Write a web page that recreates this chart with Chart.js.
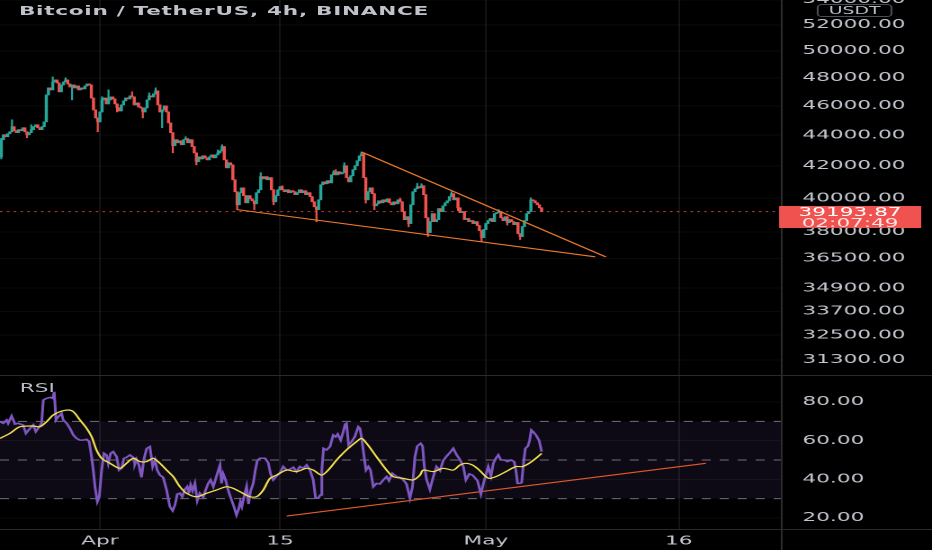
<!DOCTYPE html>
<html>
<head>
<meta charset="utf-8">
<script src="https://cdn.jsdelivr.net/npm/chart.js@4.4.0/dist/chart.umd.min.js"></script>
<style>
  html, body { margin: 0; padding: 0; background: #000; overflow: hidden; }
  #stage {
    position: absolute; left: 0; top: 0; width: 518px; height: 550px;
    transform: scaleX(1.7992); transform-origin: 0 0;
    font-family: "DejaVu Sans", sans-serif; background: #000;
  }
  canvas { position: absolute; left: 0; }
  #priceChart { top: 0; }
  #rsiChart { top: 375px; }
  .hline { position: absolute; left: 0; width: 518px; height: 1px; background: #2b2b2b; }
  .vline { position: absolute; top: 0; left: 434px; width: 1px; height: 550px; background: #2b2b2b; }
  .title { position: absolute; left: 10.5px; top: 4px; font-size: 12px; font-weight: bold; letter-spacing: 0.4px;
    line-height: 15px; color: #bfc2ca; white-space: nowrap; }
  .rsiLabel { position: absolute; left: 11px; top: 381px; font-size: 12px; line-height: 14px; color: #b8bbc3; }
  .unit { position: absolute; left: 454px; top: 4px; width: 42px; height: 13px; box-sizing: border-box;
    border: 1px solid #4a4d55; border-radius: 3px; font-size: 10.5px; line-height: 11px; color: #b8bbc3; text-align: center; }
  .lastPrice { position: absolute; left: 433px; top: 206px; width: 79px; height: 22px; background: #f0534f;
    color: #fff; font-size: 12px; line-height: 10.5px; text-align: center; padding-top: 1px; box-sizing: border-box; }
  .lastPrice span { color: #fde3e2; }
</style>
</head>
<body>
<div id="stage">
  <canvas id="priceChart" width="518" height="375"></canvas>
  <canvas id="rsiChart" width="518" height="175"></canvas>
  <div class="hline" style="top:375px"></div>
  <div class="hline" style="top:529px"></div>
  <div class="vline"></div>
  <div class="title">Bitcoin / TetherUS, 4h, BINANCE</div>
  <div class="rsiLabel">RSI</div>
  <div class="unit">USDT</div>
  <div class="lastPrice">39193.87<br><span>02:07:49</span></div>
</div>
<script>
// 4h candles, index 0 = Mar 24 08:00
const firstOpen = 42580;
const closes = [
  43700, 44030, 43900, 44100, 44230, 44570, 44300, 44170, 44370, 44300,
  44500, 44230, 44030, 44170, 44370, 44570, 44700, 44500, 44370, 44570,
  44900, 46770, 47270, 47130, 47700, 47840, 47630, 46990, 47480, 47700,
  47840, 47550, 47340, 47480, 47270, 47410, 47130, 47270, 47200, 47410,
  47550, 47480, 46550, 45720, 45170, 44900, 45580, 46420, 46550, 46140,
  46420, 46630, 46490, 46140, 45860, 45650, 46070, 46350, 46550, 46490,
  46700, 46630, 46070, 46210, 45930, 45860, 45580, 45860, 46420, 46700,
  46630, 46840, 47060, 46070, 45580, 45720, 46000, 45580, 44830, 44170,
  43310, 43700, 43500, 43630, 43370, 43700, 43770, 43500, 43700, 43250,
  42840, 42270, 42580, 42450, 42650, 42520, 42390, 42580, 42710, 42520,
  42710, 42840, 42970, 43250, 42390, 41880, 42200, 42070, 41130, 40390,
  39600, 40330, 40630, 40150, 39720, 40150, 39960, 39840, 39660, 40330,
  40510, 41320, 41190, 41320, 41130, 41260, 40510, 39780, 40150, 40510,
  40700, 40510, 40390, 40510, 40330, 40450, 40390, 40210, 40330, 40510,
  40330, 40450, 40210, 40330, 40090, 39780, 39480, 39310, 39900, 40820,
  41000, 40880, 41070, 40940, 41440, 41570, 41440, 41630, 41500, 41570,
  42010, 41260, 41000, 41380, 41760, 42010, 42330, 42650, 42770, 41260,
  39900, 40390, 40630, 40270, 39540, 39660, 39840, 39720, 39900, 39780,
  39960, 39720, 39600, 39780, 39660, 39900, 39780, 39190, 38720, 38890,
  38490, 39600, 40390, 40570, 40700, 40630, 40760, 40210, 38830, 37970,
  38600, 39070, 38600, 38720, 39370, 39190, 39540, 39720, 39840, 40090,
  40270, 39900, 40020, 39420, 39130, 39190, 38720, 38780, 38600, 38660,
  38490, 38600, 38370, 38080, 37680, 38140, 38490, 38660, 38780, 38600,
  39070, 39130, 39190, 38830, 38660, 38890, 38550, 38720, 38600, 38430,
  38550, 37910, 37740, 38310, 38660, 39070, 39190, 39900, 39840, 39720,
  39600, 39420, 39193.87
];
// notable wick extremes [candle, price]
const wickHighs = [
  [0, 43800], [5, 45040], [14, 44700], [24, 48060], [30, 48000], [47, 46640], [50, 47130],
  [61, 46990], [69, 46910], [72, 47270], [86, 43900], [101, 43030], [103, 43370], [121, 41570],
  [131, 40760], [155, 41700], [156, 41760], [160, 42200], [168, 42900], [186, 40000],
  [194, 40900], [196, 40880], [210, 40390], [232, 39310], [247, 40020]
];
const wickLows = [
  [0, 42450], [12, 43830], [33, 46420], [45, 44230], [54, 45580], [66, 45170], [75, 44500],
  [80, 42840], [91, 42070], [110, 39310], [118, 39310], [127, 39600], [147, 38600], [170, 39700],
  [174, 39310], [190, 38300], [199, 37740], [213, 39250], [224, 37460], [236, 38400], [242, 37570]
];
const lastPrice = 39193.87;
const priceTicks = [54000, 52000, 50000, 48000, 46000, 44000, 42000, 40000, 38000, 36500, 34900, 33700, 32500, 31300];
const dateTicks = [46, 130, 226, 316];
const dateLabels = ['Apr', '15', 'May', '16'];
// wedge trend lines [candle, price]
const wedgeUpper = [[168, 42900], [282, 36590]];
const wedgeLower = [[110, 39310], [277, 36600]];

// RSI (purple) and its moving average (yellow), [candle] -> value
const rsiAt = [
  -0.6, 0.9, 2.5, 3.2, 4.8, 6.4, 7.9, 10.2, 11.5, 13.4, 14.9, 16.1, 17.7, 18.8, 19.6, 21.1, 22.7, 23.9, 24.7, 25.5,
  26.6, 28.1, 28.9, 30.5, 32.0, 33.6, 35.1, 36.7, 38.2, 39.8, 41.0, 42.1, 42.9, 43.7, 44.8, 45.7, 46.8, 47.9, 49.1, 49.9,
  51.0, 52.2, 53.8, 54.9, 56.1, 57.2, 58.4, 60.0, 61.5, 62.3, 63.1, 64.2, 65.4, 66.5, 67.8, 69.3, 70.6, 71.7, 72.7, 74.0,
  75.5, 77.1, 78.6, 79.9, 81.0, 82.1, 83.3, 84.4, 85.6, 86.7, 87.5, 88.3, 89.2, 90.3, 91.4, 92.6, 94.2, 95.3, 96.5, 97.6,
  98.9, 100.4, 102.0, 102.7, 103.5, 104.6, 105.9, 107.1, 108.5, 109.7, 110.7, 111.5, 112.2, 113.2, 114.4, 115.3, 116.3, 117.5, 118.5, 119.4,
  120.6, 123.0, 124.5, 125.6, 126.8, 128.4, 130.0, 131.5, 133.1, 134.6, 136.2, 137.7, 139.3, 140.8, 142.4, 144.0, 145.5, 146.6, 147.8, 148.8,
  149.5, 150.3, 151.7, 153.3, 154.8, 155.9, 156.9, 158.3, 159.5, 160.4, 161.0, 162.0, 163.4, 164.9, 166.5, 167.3, 168.2, 169.1, 170.1, 171.2,
  172.2, 173.5, 175.0, 176.6, 178.2, 179.7, 180.8, 182.4, 184.4, 185.9, 187.5, 189.0, 190.6, 191.8, 192.9, 194.0, 195.6, 196.5, 197.3, 198.4,
  199.9, 201.5, 203.0, 204.6, 206.1, 207.7, 209.2, 210.8, 212.4, 213.9, 215.5, 216.7, 218.3, 219.8, 222.1, 223.7, 225.2, 227.1, 228.4, 229.5,
  230.7, 231.8, 233.0, 234.6, 236.1, 237.7, 239.2, 240.0, 240.8, 241.9, 242.7, 243.4, 244.4, 245.6, 246.4, 247.2, 248.0, 249.4, 250.9, 252.0
];
const rsiValues = [
  69.8, 69.0, 70.7, 69.0, 72.8, 68.6, 69.0, 68.1, 63.8, 66.4, 68.1, 64.7, 67.2, 69.0, 81.0, 81.9, 82.4, 81.9, 85.3, 70.7,
  72.4, 74.1, 70.7, 69.0, 66.4, 62.9, 61.2, 60.3, 60.3, 60.7, 59.5, 51.7, 44.8, 36.2, 28.5, 31.0, 44.8, 53.5, 52.6, 48.3,
  53.5, 54.3, 51.7, 44.8, 45.7, 50.9, 51.4, 52.6, 51.4, 47.9, 50.3, 47.4, 41.0, 50.3, 56.0, 56.9, 46.6, 50.0, 44.8, 42.2,
  41.0, 34.5, 25.9, 23.8, 26.7, 32.4, 32.8, 31.0, 34.8, 36.2, 32.8, 37.1, 34.1, 37.9, 29.0, 32.8, 30.7, 34.5, 37.9, 39.7,
  36.2, 41.7, 47.4, 37.9, 42.8, 39.7, 34.1, 30.2, 25.9, 21.5, 24.5, 28.4, 25.9, 31.0, 36.2, 27.2, 34.1, 37.9, 44.8, 49.7,
  50.9, 50.9, 48.6, 42.8, 39.7, 41.7, 43.4, 46.6, 44.8, 45.2, 46.2, 44.0, 46.6, 45.7, 47.4, 44.8, 39.7, 30.2, 30.2, 31.9,
  44.8, 56.0, 55.2, 56.9, 62.9, 62.0, 63.4, 60.3, 64.7, 68.6, 69.0, 57.8, 59.5, 62.1, 67.2, 66.4, 60.3, 52.6, 44.8, 46.6,
  44.8, 36.2, 37.9, 37.6, 39.7, 41.4, 39.3, 43.1, 41.4, 41.0, 39.7, 37.6, 30.2, 36.2, 51.4, 57.2, 58.6, 57.2, 46.6, 39.7,
  34.8, 41.4, 46.6, 44.5, 49.7, 52.0, 53.8, 56.0, 52.6, 50.3, 46.6, 39.7, 42.8, 42.2, 39.3, 32.4, 39.3, 46.6, 41.7, 48.3,
  50.9, 52.6, 50.0, 50.0, 49.2, 50.0, 49.2, 44.8, 37.9, 37.9, 38.3, 46.6, 56.0, 57.2, 60.0, 65.5, 64.7, 62.9, 60.0, 54.3
];
const maAt = [
  -0.6, 4.0, 8.7, 14.9, 18.0, 21.1, 24.2, 27.3, 31.2, 33.6, 36.7, 39.8, 42.1, 44.4, 46.8, 50.7, 55.3, 58.4, 61.5, 64.7,
  67.8, 70.9, 74.0, 77.1, 80.2, 83.3, 86.4, 91.1, 95.8, 100.4, 105.1, 108.2, 111.3, 116.0, 119.1, 122.2, 125.3, 128.4, 133.1, 137.7,
  142.4, 145.5, 149.4, 152.5, 156.4, 161.0, 165.7, 168.0, 170.4, 175.0, 179.7, 182.8, 187.5, 192.1, 195.3, 196.8, 201.5, 206.1, 210.8, 213.9,
  216.7, 219.8, 222.9, 226.0, 227.6, 230.7, 235.4, 240.0, 243.1, 246.2, 249.4, 252.0
];
const maValues = [
  61.2, 63.8, 67.2, 67.6, 67.2, 69.8, 73.3, 75.0, 75.9, 75.0, 70.7, 66.4, 62.1, 55.2, 50.9, 48.3, 45.7, 48.3, 50.9, 49.2,
  49.2, 50.9, 48.3, 44.8, 41.4, 36.2, 32.8, 31.0, 32.8, 34.5, 36.2, 35.3, 33.6, 31.0, 31.0, 34.5, 40.5, 42.2, 44.8, 44.0,
  45.7, 44.8, 42.2, 44.8, 50.0, 55.2, 59.5, 61.2, 58.6, 51.7, 44.8, 41.4, 40.5, 39.7, 42.2, 44.8, 44.0, 45.7, 44.8, 47.4,
  48.3, 47.4, 44.8, 41.4, 40.5, 41.4, 44.0, 46.6, 46.6, 48.3, 50.9, 53.4
];
const rsiTrend = [[133.1, 21.0], [328.6, 48.3]];
const rsiLevels = [70, 50, 30];
const rsiTicks = [20, 40, 60, 80];

const GREEN = '#26a69a';
const RED = '#ef5350';
const GRID = 'rgba(255,255,255,0.075)';
const HGRID = 'rgba(255,255,255,0.045)';
const TEXT = '#c3c6ce';
const X_MIN = -0.6, X_MAX = 363.6;

Chart.defaults.font.family = '"DejaVu Sans", sans-serif';
Chart.defaults.font.size = 12;
Chart.defaults.color = TEXT;

const opens = closes.map((c, i) => i === 0 ? firstOpen : closes[i - 1]);
const highs = closes.map((c, i) => Math.max(c, opens[i]));
const lows = closes.map((c, i) => Math.min(c, opens[i]));
wickHighs.forEach(([i, p]) => { highs[i] = Math.max(highs[i], p); });
wickLows.forEach(([i, p]) => { lows[i] = Math.min(lows[i], p); });
const candleColor = ctx => closes[ctx.dataIndex] >= opens[ctx.dataIndex] ? GREEN : RED;
const toPts = arr => arr.map(([x, y]) => ({ x, y }));

function fixWidth(w) {
  return scale => {
    scale.width = w;
    scale.paddingTop = 0; scale.paddingBottom = 0;
  };
}
function fixHeight(h) {
  return scale => {
    scale.height = h;
    scale.paddingLeft = 0; scale.paddingRight = 0;
  };
}

new Chart(document.getElementById('priceChart'), {
  type: 'bar',
  data: {
    datasets: [
      {
        type: 'line', data: toPts(wedgeUpper), borderColor: '#ec7a2c', borderWidth: 1.1,
        pointRadius: 0, order: 0
      },
      {
        type: 'line', data: toPts(wedgeLower), borderColor: '#ec7a2c', borderWidth: 1.1,
        pointRadius: 0, order: 0
      },
      {
        type: 'line', data: [{ x: X_MIN, y: lastPrice }, { x: X_MAX, y: lastPrice }],
        borderColor: 'rgba(239,83,80,0.8)', borderWidth: 1, borderDash: [1.4, 2.4], pointRadius: 0, order: 3
      },
      {
        data: closes.map((c, i) => ({ x: i, y: [lows[i], highs[i]] })),
        backgroundColor: candleColor, barThickness: 0.45, grouped: false, order: 2
      },
      {
        data: closes.map((c, i) => ({ x: i, y: [opens[i], c] })),
        backgroundColor: candleColor, barThickness: 1.05, minBarLength: 1, grouped: false, order: 1
      }
    ]
  },
  options: {
    responsive: false,
    devicePixelRatio: 2,
    animation: false,
    layout: { padding: 0 },
    plugins: { legend: { display: false }, tooltip: { enabled: false } },
    scales: {
      x: {
        type: 'linear', min: X_MIN, max: X_MAX, offset: false,
        grid: { color: GRID, offset: false, drawTicks: false },
        border: { display: false },
        ticks: { display: false },
        afterBuildTicks: scale => { scale.ticks = dateTicks.map(v => ({ value: v })); },
        afterFit: fixHeight(0)
      },
      y: {
        type: 'logarithmic', position: 'right', min: 30600, max: 54000,
        grid: { color: HGRID, drawTicks: false },
        border: { display: false },
        ticks: { padding: 12, color: TEXT, callback: v => Number(v).toFixed(2) },
        afterBuildTicks: scale => { scale.ticks = priceTicks.map(v => ({ value: v })); },
        afterFit: fixWidth(84)
      }
    }
  }
});

// the 70 line (first level dataset, index 3) fills down to the 30 line (index 5)
const levelSets = rsiLevels.map((lv, k) => ({
  data: [{ x: X_MIN, y: lv }, { x: X_MAX, y: lv }],
  borderColor: '#6f717a', borderWidth: 1, borderDash: [5, 5], pointRadius: 0,
  fill: k === 0 ? 5 : false,
  backgroundColor: 'rgba(126,87,194,0.11)',
  order: 5
}));

new Chart(document.getElementById('rsiChart'), {
  type: 'line',
  data: {
    datasets: [
      {
        data: maAt.map((x, i) => ({ x, y: maValues[i] })),
        borderColor: '#f2e24c', borderWidth: 1.2, pointRadius: 0, tension: 0.3, order: 0
      },
      {
        data: rsiAt.map((x, i) => ({ x, y: rsiValues[i] })),
        borderColor: '#7e57c2', borderWidth: 1.5, pointRadius: 0, order: 1
      },
      {
        data: toPts(rsiTrend), borderColor: '#e2592c', borderWidth: 1.1, pointRadius: 0, order: 2
      },
      ...levelSets
    ]
  },
  options: {
    responsive: false,
    devicePixelRatio: 2,
    animation: false,
    layout: { padding: 0 },
    plugins: { legend: { display: false }, tooltip: { enabled: false }, filler: { propagate: false } },
    scales: {
      x: {
        type: 'linear', min: X_MIN, max: X_MAX,
        grid: { color: GRID, drawTicks: false },
        border: { display: false },
        ticks: {
          padding: 5, color: TEXT, maxRotation: 0, autoSkip: false,
          callback: v => dateLabels[dateTicks.indexOf(v)]
        },
        afterBuildTicks: scale => { scale.ticks = dateTicks.map(v => ({ value: v })); },
        afterFit: fixHeight(21)
      },
      y: {
        position: 'right', min: 14.3, max: 94,
        grid: { color: HGRID, drawTicks: false },
        border: { display: false },
        ticks: { padding: 12, color: TEXT, callback: v => Number(v).toFixed(2) },
        afterBuildTicks: scale => { scale.ticks = rsiTicks.map(v => ({ value: v })); },
        afterFit: fixWidth(84)
      }
    }
  }
});
</script>
</body>
</html>
